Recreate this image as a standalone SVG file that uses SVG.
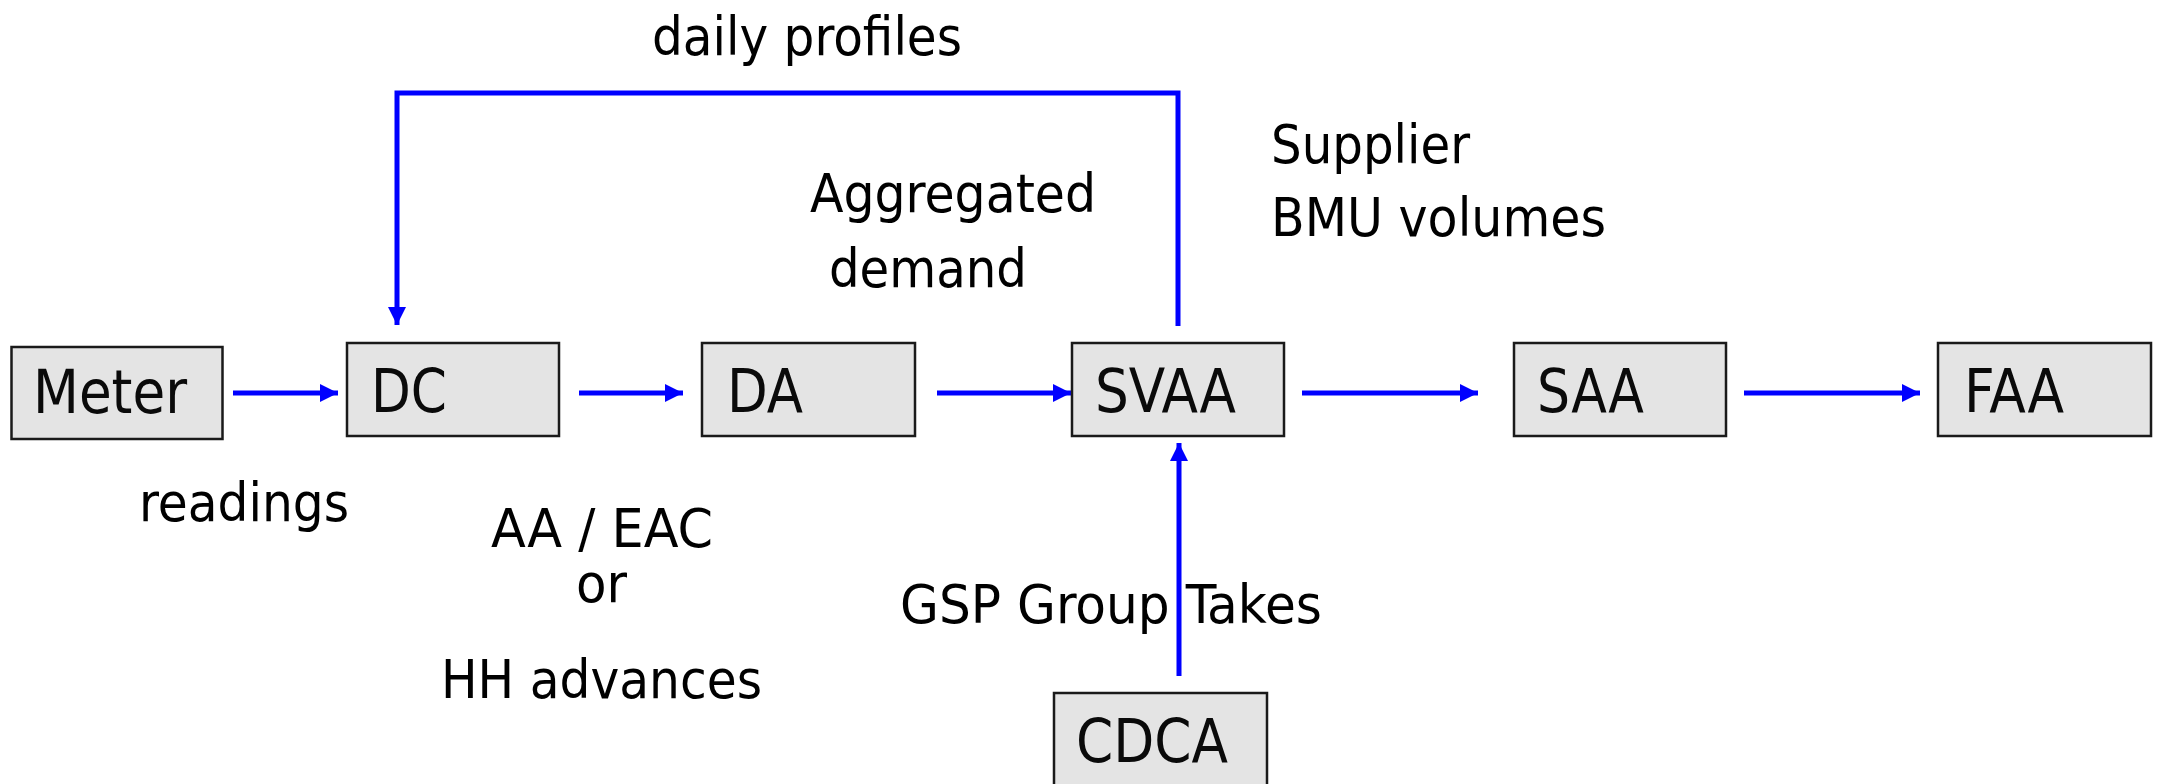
<svg xmlns="http://www.w3.org/2000/svg" width="2161" height="784" viewBox="0 0 2161 784">
<style>
.box{fill:#e4e4e4;stroke:#1a1a1a;stroke-width:2.5}
.nt{font-family:"DejaVu Sans Condensed","DejaVu Sans",sans-serif;font-size:61px;fill:#0a0a0a}
.lb{font-family:"DejaVu Sans Condensed","DejaVu Sans",sans-serif;font-size:53px;fill:#000}
.cn{fill:none;stroke:#0000ff;stroke-width:5}
</style>
<defs>
<marker id="ah" markerUnits="userSpaceOnUse" markerWidth="18" markerHeight="18" viewBox="0 0 18 18" refX="18" refY="9" orient="auto">
<path d="M0,0 L18,9 L0,18 z" fill="#0000ff"/>
</marker>
</defs>
<rect width="2161" height="784" fill="#fff"/>
<g id="connectors">
<line class="cn" x1="233" y1="393" x2="338" y2="393" marker-end="url(#ah)"/>
<line class="cn" x1="579" y1="393" x2="683" y2="393" marker-end="url(#ah)"/>
<line class="cn" x1="937" y1="393" x2="1071" y2="393" marker-end="url(#ah)"/>
<line class="cn" x1="1302" y1="393" x2="1478" y2="393" marker-end="url(#ah)"/>
<line class="cn" x1="1744" y1="393" x2="1920" y2="393" marker-end="url(#ah)"/>
<path class="cn" d="M1178,326 V93 H397 V325" marker-end="url(#ah)"/>
<line class="cn" x1="1179" y1="676" x2="1179" y2="443" marker-end="url(#ah)"/>
</g>
<g id="meter"><rect class="box" x="11.5" y="347" width="211" height="92"/><text class="nt" x="33" y="413" textLength="154" lengthAdjust="spacingAndGlyphs">Meter</text></g>
<g id="dc"><rect class="box" x="347" y="343" width="212" height="93"/><text class="nt" x="371" y="412" textLength="76" lengthAdjust="spacingAndGlyphs">DC</text></g>
<g id="da"><rect class="box" x="702" y="343" width="213" height="93"/><text class="nt" x="727" y="412" textLength="76" lengthAdjust="spacingAndGlyphs">DA</text></g>
<g id="svaa"><rect class="box" x="1072" y="343" width="212" height="93"/><text class="nt" x="1095" y="412" textLength="141" lengthAdjust="spacingAndGlyphs">SVAA</text></g>
<g id="saa"><rect class="box" x="1514" y="343" width="212" height="93"/><text class="nt" x="1537" y="412" textLength="107" lengthAdjust="spacingAndGlyphs">SAA</text></g>
<g id="faa"><rect class="box" x="1938" y="343" width="213" height="93"/><text class="nt" x="1964" y="412" textLength="100" lengthAdjust="spacingAndGlyphs">FAA</text></g>
<g id="cdca"><rect class="box" x="1054" y="693" width="213" height="100"/><text class="nt" x="1076" y="762" textLength="152" lengthAdjust="spacingAndGlyphs">CDCA</text></g>
<g id="labels">
<text class="lb" x="652" y="55" textLength="310" lengthAdjust="spacingAndGlyphs">daily profiles</text>
<text class="lb" x="810" y="212" textLength="286" lengthAdjust="spacingAndGlyphs">Aggregated</text>
<text class="lb" x="829" y="287" textLength="198" lengthAdjust="spacingAndGlyphs">demand</text>
<text class="lb" x="1271" y="163" textLength="199" lengthAdjust="spacingAndGlyphs">Supplier</text>
<text class="lb" x="1271" y="236" textLength="335" lengthAdjust="spacingAndGlyphs">BMU volumes</text>
<text class="lb" x="139" y="521" textLength="210" lengthAdjust="spacingAndGlyphs">readings</text>
<text class="lb" x="491" y="547" textLength="222" lengthAdjust="spacingAndGlyphs">AA / EAC</text>
<text class="lb" x="576" y="602" textLength="51" lengthAdjust="spacingAndGlyphs">or</text>
<text class="lb" x="441" y="698" textLength="321" lengthAdjust="spacingAndGlyphs">HH advances</text>
<text class="lb" x="900" y="623" textLength="422" lengthAdjust="spacingAndGlyphs">GSP Group Takes</text>
</g>
</svg>
